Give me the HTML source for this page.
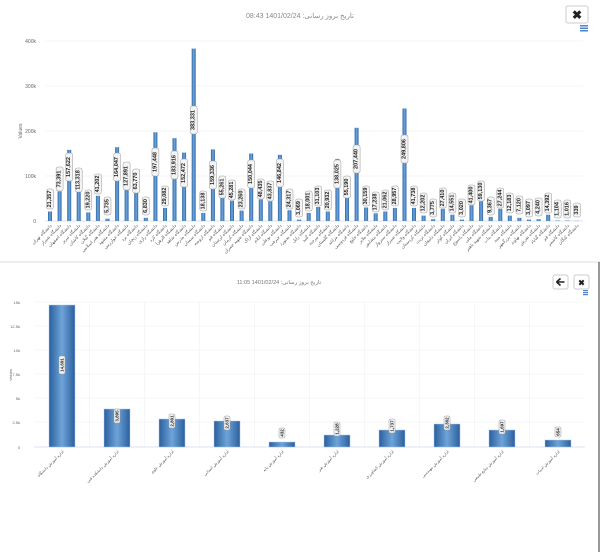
<!DOCTYPE html>
<html><head><meta charset="utf-8"><style>
html,body{margin:0;padding:0;background:#fff;width:600px;height:552px;overflow:hidden}
svg{display:block;font-family:"Liberation Sans","Noto Sans CJK SC",sans-serif}
.yl{font-size:5px;fill:#666;text-anchor:end}
.xl{font-size:4.5px;fill:#555;text-anchor:end}
.lb rect{fill:#f4f4f4;stroke:#999;stroke-width:.5}
.lb text{font-size:5.5px;fill:#222;font-weight:bold;text-anchor:middle;dominant-baseline:central}
</style></head><body>
<svg width="600" height="552" viewBox="0 0 600 552">
<defs>
<linearGradient id="g" x1="0" x2="1" y1="0" y2="0"><stop offset="0" stop-color="#2d66a6"/><stop offset=".5" stop-color="#6fa6dc"/><stop offset="1" stop-color="#2d66a6"/></linearGradient>
<linearGradient id="g2" x1="0" x2="1" y1="0" y2="0"><stop offset="0" stop-color="#2a5f9e"/><stop offset=".5" stop-color="#6ea4d8"/><stop offset="1" stop-color="#2a5f9e"/></linearGradient>
</defs>
<line x1="0" y1="262" x2="600" y2="262" stroke="#ddd" stroke-width="1"/>
<line x1="599" y1="262" x2="599" y2="552" stroke="#333" stroke-width="1"/>
<text x="300" y="18" font-size="7" fill="#888" text-anchor="middle" font-family="Liberation Sans,sans-serif">تاريخ بروز رسانی: 1401/02/24 08:43</text>
<rect x="566" y="6" width="22" height="17" rx="2" fill="#fff" stroke="#ccc"/>
<text x="577" y="19" font-size="12" font-weight="bold" text-anchor="middle" fill="#222">✖</text>
<g fill="#4a86c8"><rect x="580" y="25" width="8" height="1.5"/><rect x="580" y="27.5" width="8" height="1.5"/><rect x="580" y="30" width="8" height="1.5"/></g>
<g stroke="#eee" stroke-width=".6">
<line x1="45" x2="583" y1="41" y2="41"/><line x1="45" x2="583" y1="86" y2="86"/><line x1="45" x2="583" y1="131" y2="131"/><line x1="45" x2="583" y1="176" y2="176"/>
</g>
<line x1="45" x2="583" y1="221" y2="221" stroke="#ccd6eb" stroke-width=".8"/>
<text class="yl" x="36" y="43">400k</text><text class="yl" x="36" y="88">300k</text><text class="yl" x="36" y="133">200k</text><text class="yl" x="36" y="178">100k</text><text class="yl" x="36" y="223">0</text>
<text x="22" y="131" font-size="5" fill="#666" text-anchor="middle" transform="rotate(-90 22 131)">Values</text>
<g fill="url(#g)">
<rect x="48" y="211.5" width="4" height="9.5"/><rect x="57.6" y="191.3" width="4" height="29.7"/><rect x="67.2" y="149.9" width="4" height="71.1"/><rect x="76.7" y="169.7" width="4" height="51.3"/><rect x="86.3" y="212.4" width="4" height="8.6"/><rect x="95.9" y="195.8" width="4" height="25.2"/><rect x="105.5" y="218.7" width="4" height="2.3"/><rect x="115.1" y="147.2" width="4" height="73.8"/><rect x="124.6" y="163.8" width="4" height="57.2"/><rect x="134.2" y="192.2" width="4" height="28.8"/><rect x="143.8" y="217.8" width="4" height="3.2"/><rect x="153.4" y="132.3" width="4" height="88.7"/><rect x="163" y="207.9" width="4" height="13.1"/><rect x="172.5" y="138.2" width="4" height="82.8"/><rect x="182.1" y="152.6" width="4" height="68.4"/><rect x="191.7" y="48.6" width="4" height="172.4"/><rect x="201.3" y="212.9" width="4" height="8.1"/><rect x="210.9" y="149.4" width="4" height="71.6"/><rect x="220.4" y="196.2" width="4" height="24.8"/><rect x="230" y="200.7" width="4" height="20.3"/><rect x="239.6" y="210.6" width="4" height="10.4"/><rect x="249.2" y="153.5" width="4" height="67.5"/><rect x="258.8" y="199.4" width="4" height="21.6"/><rect x="268.3" y="201.2" width="4" height="19.8"/><rect x="277.9" y="154.8" width="4" height="66.2"/><rect x="287.5" y="210.2" width="4" height="10.8"/><rect x="297.1" y="219.6" width="4" height="1.4"/><rect x="306.7" y="212.9" width="4" height="8.1"/><rect x="316.2" y="207" width="4" height="14"/><rect x="325.8" y="211.5" width="4" height="9.5"/><rect x="335.4" y="158.9" width="4" height="62.1"/><rect x="345" y="196.2" width="4" height="24.8"/><rect x="354.6" y="127.8" width="4" height="93.2"/><rect x="364.1" y="207.5" width="4" height="13.5"/><rect x="373.7" y="213.3" width="4" height="7.7"/><rect x="383.3" y="211.5" width="4" height="9.5"/><rect x="392.9" y="207.9" width="4" height="13.1"/><rect x="402.5" y="108.5" width="4" height="112.5"/><rect x="412" y="207.9" width="4" height="13.1"/><rect x="421.6" y="215.6" width="4" height="5.4"/><rect x="431.2" y="219.2" width="4" height="1.8"/><rect x="440.8" y="208.8" width="4" height="12.2"/><rect x="450.4" y="214.7" width="4" height="6.3"/><rect x="459.9" y="219.6" width="4" height="1.4"/><rect x="469.5" y="205.2" width="4" height="15.8"/><rect x="479.1" y="201.2" width="4" height="19.8"/><rect x="488.7" y="216.9" width="4" height="4.1"/><rect x="498.3" y="208.8" width="4" height="12.2"/><rect x="507.8" y="215.6" width="4" height="5.4"/><rect x="517.4" y="217.8" width="4" height="3.2"/><rect x="527" y="219.6" width="4" height="1.4"/><rect x="536.6" y="219.2" width="4" height="1.8"/><rect x="546.2" y="214.7" width="4" height="6.3"/><rect x="555.7" y="220.5" width="4" height=".5"/><rect x="565.3" y="220.5" width="4" height=".5"/><rect x="574.9" y="220.8" width="4" height=".2"/>
</g>
<g class="lb">
<g transform="translate(50 199) rotate(-90)"><rect x="-10" y="-3.5" width="20" height="7" rx="2"/><text>21,357</text></g>
<g transform="translate(59.6 179) rotate(-90)"><rect x="-12" y="-3.5" width="24" height="7" rx="2"/><text>73,391</text></g>
<g transform="translate(69.2 167) rotate(-90)"><rect x="-14" y="-3.5" width="28" height="7" rx="2"/><text>157,622</text></g>
<g transform="translate(78.7 180) rotate(-90)"><rect x="-12" y="-3.5" width="24" height="7" rx="2"/><text>113,318</text></g>
<g transform="translate(88.3 200) rotate(-90)"><rect x="-10" y="-3.5" width="20" height="7" rx="2"/><text>19,220</text></g>
<g transform="translate(97.9 184) rotate(-90)"><rect x="-10" y="-3.5" width="20" height="7" rx="2"/><text>41,202</text></g>
<g transform="translate(107.5 206) rotate(-90)"><rect x="-9" y="-3.5" width="18" height="7" rx="2"/><text>5,735</text></g>
<g transform="translate(117.1 167) rotate(-90)"><rect x="-14" y="-3.5" width="28" height="7" rx="2"/><text>164,047</text></g>
<g transform="translate(126.6 176) rotate(-90)"><rect x="-14" y="-3.5" width="28" height="7" rx="2"/><text>127,891</text></g>
<g transform="translate(136.2 181) rotate(-90)"><rect x="-12" y="-3.5" width="24" height="7" rx="2"/><text>63,770</text></g>
<g transform="translate(145.8 206) rotate(-90)"><rect x="-9" y="-3.5" width="18" height="7" rx="2"/><text>6,830</text></g>
<g transform="translate(155.4 162) rotate(-90)"><rect x="-14" y="-3.5" width="28" height="7" rx="2"/><text>197,448</text></g>
<g transform="translate(165 196) rotate(-90)"><rect x="-10" y="-3.5" width="20" height="7" rx="2"/><text>29,082</text></g>
<g transform="translate(174.5 165) rotate(-90)"><rect x="-14" y="-3.5" width="28" height="7" rx="2"/><text>183,916</text></g>
<g transform="translate(184.1 173) rotate(-90)"><rect x="-14" y="-3.5" width="28" height="7" rx="2"/><text>152,472</text></g>
<g transform="translate(193.7 120) rotate(-90)"><rect x="-14" y="-3.5" width="28" height="7" rx="2"/><text>383,331</text></g>
<g transform="translate(203.3 201) rotate(-90)"><rect x="-10" y="-3.5" width="20" height="7" rx="2"/><text>18,138</text></g>
<g transform="translate(212.9 175) rotate(-90)"><rect x="-14" y="-3.5" width="28" height="7" rx="2"/><text>159,336</text></g>
<g transform="translate(222.4 187) rotate(-90)"><rect x="-11" y="-3.5" width="22" height="7" rx="2"/><text>55,261</text></g>
<g transform="translate(232 190) rotate(-90)"><rect x="-10" y="-3.5" width="20" height="7" rx="2"/><text>45,281</text></g>
<g transform="translate(241.6 199) rotate(-90)"><rect x="-10" y="-3.5" width="20" height="7" rx="2"/><text>23,260</text></g>
<g transform="translate(251.2 174) rotate(-90)"><rect x="-14" y="-3.5" width="28" height="7" rx="2"/><text>150,044</text></g>
<g transform="translate(260.8 189) rotate(-90)"><rect x="-10" y="-3.5" width="20" height="7" rx="2"/><text>48,435</text></g>
<g transform="translate(270.3 191) rotate(-90)"><rect x="-10" y="-3.5" width="20" height="7" rx="2"/><text>43,837</text></g>
<g transform="translate(279.9 173) rotate(-90)"><rect x="-14" y="-3.5" width="28" height="7" rx="2"/><text>146,842</text></g>
<g transform="translate(289.5 199) rotate(-90)"><rect x="-10" y="-3.5" width="20" height="7" rx="2"/><text>24,317</text></g>
<g transform="translate(299.1 208) rotate(-90)"><rect x="-9" y="-3.5" width="18" height="7" rx="2"/><text>3,069</text></g>
<g transform="translate(308.7 201) rotate(-90)"><rect x="-10" y="-3.5" width="20" height="7" rx="2"/><text>18,001</text></g>
<g transform="translate(318.2 196) rotate(-90)"><rect x="-10" y="-3.5" width="20" height="7" rx="2"/><text>31,103</text></g>
<g transform="translate(327.8 200) rotate(-90)"><rect x="-10" y="-3.5" width="20" height="7" rx="2"/><text>20,932</text></g>
<g transform="translate(337.4 174) rotate(-90)"><rect x="-14" y="-3.5" width="28" height="7" rx="2"/><text>138,025</text></g>
<g transform="translate(347 187) rotate(-90)"><rect x="-11" y="-3.5" width="22" height="7" rx="2"/><text>55,190</text></g>
<g transform="translate(356.6 159) rotate(-90)"><rect x="-14" y="-3.5" width="28" height="7" rx="2"/><text>207,440</text></g>
<g transform="translate(366.1 196) rotate(-90)"><rect x="-10" y="-3.5" width="20" height="7" rx="2"/><text>30,159</text></g>
<g transform="translate(375.7 202) rotate(-90)"><rect x="-10" y="-3.5" width="20" height="7" rx="2"/><text>17,238</text></g>
<g transform="translate(385.3 200) rotate(-90)"><rect x="-10" y="-3.5" width="20" height="7" rx="2"/><text>21,062</text></g>
<g transform="translate(394.9 196) rotate(-90)"><rect x="-10" y="-3.5" width="20" height="7" rx="2"/><text>28,957</text></g>
<g transform="translate(404.5 149) rotate(-90)"><rect x="-14" y="-3.5" width="28" height="7" rx="2"/><text>249,806</text></g>
<g transform="translate(414 196) rotate(-90)"><rect x="-10" y="-3.5" width="20" height="7" rx="2"/><text>41,738</text></g>
<g transform="translate(423.6 203) rotate(-90)"><rect x="-10" y="-3.5" width="20" height="7" rx="2"/><text>12,202</text></g>
<g transform="translate(433.2 208) rotate(-90)"><rect x="-9" y="-3.5" width="18" height="7" rx="2"/><text>3,775</text></g>
<g transform="translate(442.8 198) rotate(-90)"><rect x="-10" y="-3.5" width="20" height="7" rx="2"/><text>27,410</text></g>
<g transform="translate(452.4 203) rotate(-90)"><rect x="-10" y="-3.5" width="20" height="7" rx="2"/><text>14,551</text></g>
<g transform="translate(461.9 208) rotate(-90)"><rect x="-9" y="-3.5" width="18" height="7" rx="2"/><text>3,020</text></g>
<g transform="translate(471.5 195) rotate(-90)"><rect x="-10" y="-3.5" width="20" height="7" rx="2"/><text>41,400</text></g>
<g transform="translate(481.1 191) rotate(-90)"><rect x="-10" y="-3.5" width="20" height="7" rx="2"/><text>59,130</text></g>
<g transform="translate(490.7 206) rotate(-90)"><rect x="-9" y="-3.5" width="18" height="7" rx="2"/><text>9,367</text></g>
<g transform="translate(500.3 198) rotate(-90)"><rect x="-10" y="-3.5" width="20" height="7" rx="2"/><text>27,244</text></g>
<g transform="translate(509.8 203) rotate(-90)"><rect x="-10" y="-3.5" width="20" height="7" rx="2"/><text>12,183</text></g>
<g transform="translate(519.4 205) rotate(-90)"><rect x="-9" y="-3.5" width="18" height="7" rx="2"/><text>7,120</text></g>
<g transform="translate(529 208) rotate(-90)"><rect x="-9" y="-3.5" width="18" height="7" rx="2"/><text>3,097</text></g>
<g transform="translate(538.6 207) rotate(-90)"><rect x="-9" y="-3.5" width="18" height="7" rx="2"/><text>4,240</text></g>
<g transform="translate(548.2 203) rotate(-90)"><rect x="-10" y="-3.5" width="20" height="7" rx="2"/><text>14,392</text></g>
<g transform="translate(557.7 209) rotate(-90)"><rect x="-9" y="-3.5" width="18" height="7" rx="2"/><text>1,104</text></g>
<g transform="translate(567.3 209) rotate(-90)"><rect x="-9" y="-3.5" width="18" height="7" rx="2"/><text>1,016</text></g>
<g transform="translate(576.9 210) rotate(-90)"><rect x="-7" y="-3.5" width="14" height="7" rx="2"/><text>339</text></g>
</g>
<g class="xl">
<text transform="translate(52 226) rotate(-45)">دانشگاه تهران</text><text transform="translate(61.6 226) rotate(-45)">دانشگاه شیراز</text><text transform="translate(71.2 226) rotate(-45)">دانشگاه اصفهان</text><text transform="translate(80.7 226) rotate(-45)">دانشگاه تبریز</text><text transform="translate(90.3 226) rotate(-45)">دانشگاه کاشان</text><text transform="translate(99.9 226) rotate(-45)">دانشگاه گیلان</text><text transform="translate(109.5 226) rotate(-45)">دانشگاه هنر اسلامی</text><text transform="translate(119.1 226) rotate(-45)">دانشگاه مشهد</text><text transform="translate(128.6 226) rotate(-45)">دانشگاه خوارزمی</text><text transform="translate(138.2 226) rotate(-45)">دانشگاه یزد</text><text transform="translate(147.8 226) rotate(-45)">دانشگاه زنجان</text><text transform="translate(157.4 226) rotate(-45)">دانشگاه رازی</text><text transform="translate(167 226) rotate(-45)">دانشگاه کرد</text><text transform="translate(176.5 226) rotate(-45)">دانشگاه الزهرا</text><text transform="translate(186.1 226) rotate(-45)">دانشگاه شاهد</text><text transform="translate(195.7 226) rotate(-45)">دانشگاه مدرس</text><text transform="translate(205.3 226) rotate(-45)">دانشگاه سمنان</text><text transform="translate(214.9 226) rotate(-45)">دانشگاه ارومیه</text><text transform="translate(224.4 226) rotate(-45)">دانشگاه قم</text><text transform="translate(234 226) rotate(-45)">دانشگاه لرستان</text><text transform="translate(243.6 226) rotate(-45)">دانشگاه کرمان</text><text transform="translate(253.2 226) rotate(-45)">دانشگاه شهید چمران</text><text transform="translate(262.8 226) rotate(-45)">دانشگاه اراک</text><text transform="translate(272.3 226) rotate(-45)">دانشگاه ایلام</text><text transform="translate(281.9 226) rotate(-45)">دانشگاه بوعلی</text><text transform="translate(291.5 226) rotate(-45)">دانشگاه جیرفت</text><text transform="translate(301.1 226) rotate(-45)">دانشگاه بجنورد</text><text transform="translate(310.7 226) rotate(-45)">دانشگاه زابل</text><text transform="translate(320.2 226) rotate(-45)">دانشگاه گنبد</text><text transform="translate(329.8 226) rotate(-45)">دانشگاه بیرجند</text><text transform="translate(339.4 226) rotate(-45)">دانشگاه گلستان</text><text transform="translate(349 226) rotate(-45)">دانشگاه مراغه</text><text transform="translate(358.6 226) rotate(-45)">دانشگاه فردوسی</text><text transform="translate(368.1 226) rotate(-45)">دانشگاه خلیج</text><text transform="translate(377.7 226) rotate(-45)">دانشگاه ملایر</text><text transform="translate(387.3 226) rotate(-45)">دانشگاه نیشابور</text><text transform="translate(396.9 226) rotate(-45)">دانشگاه سبزوار</text><text transform="translate(406.5 226) rotate(-45)">دانشگاه شیراز</text><text transform="translate(416 226) rotate(-45)">دانشگاه ولایت</text><text transform="translate(425.6 226) rotate(-45)">دانشگاه کردستان</text><text transform="translate(435.2 226) rotate(-45)">دانشگاه تربت</text><text transform="translate(444.8 226) rotate(-45)">دانشگاه دامغان</text><text transform="translate(454.4 226) rotate(-45)">دانشگاه کوثر</text><text transform="translate(463.9 226) rotate(-45)">دانشگاه ایران</text><text transform="translate(473.5 226) rotate(-45)">دانشگاه یاسوج</text><text transform="translate(483.1 226) rotate(-45)">دانشگاه ملی</text><text transform="translate(492.7 226) rotate(-45)">دانشگاه شهید باهنر</text><text transform="translate(502.3 226) rotate(-45)">دانشگاه بناب</text><text transform="translate(511.8 226) rotate(-45)">دانشگاه میبد</text><text transform="translate(521.4 226) rotate(-45)">دانشگاه بزرگمهر</text><text transform="translate(531 226) rotate(-45)">دانشگاه نهاوند</text><text transform="translate(540.6 226) rotate(-45)">دانشگاه تفرش</text><text transform="translate(550.2 226) rotate(-45)">دانشگاه گناباد</text><text transform="translate(559.7 226) rotate(-45)">دانشگاه قم</text><text transform="translate(569.3 226) rotate(-45)">دانشگاه کاشمر</text><text transform="translate(578.9 226) rotate(-45)">دانشگاه کنگان</text>
</g>

<text x="279" y="284" font-size="5.5" fill="#777" text-anchor="middle">تاريخ بروز رسانی: 1401/02/24 11:05</text>
<rect x="553" y="275" width="15" height="14" rx="2" fill="#fff" stroke="#ccc"/>
<path d="M556.5 282 L560.5 278.5 M556.5 282 L560.5 285.5 M556.5 282 L564.5 282" stroke="#222" stroke-width="1.6" fill="none"/>
<rect x="574" y="275" width="15" height="14" rx="2" fill="#fff" stroke="#ccc"/>
<text x="581.5" y="285.5" font-size="8" font-weight="bold" text-anchor="middle" fill="#222">✖</text>
<g fill="#4a86c8"><rect x="583" y="290" width="5" height="1.2"/><rect x="583" y="292" width="5" height="1.2"/><rect x="583" y="294" width="5" height="1.2"/></g>
<g stroke="#eee" stroke-width=".5">
<line x1="34" x2="585" y1="302" y2="302"/><line x1="34" x2="585" y1="326" y2="326"/><line x1="34" x2="585" y1="350" y2="350"/><line x1="34" x2="585" y1="374" y2="374"/><line x1="34" x2="585" y1="398" y2="398"/><line x1="34" x2="585" y1="422" y2="422"/>
<line x1="89.5" x2="89.5" y1="302" y2="447"/><line x1="144.5" x2="144.5" y1="302" y2="447"/><line x1="199.5" x2="199.5" y1="302" y2="447"/><line x1="254.5" x2="254.5" y1="302" y2="447"/><line x1="309.5" x2="309.5" y1="302" y2="447"/><line x1="364.5" x2="364.5" y1="302" y2="447"/><line x1="419.5" x2="419.5" y1="302" y2="447"/><line x1="474.5" x2="474.5" y1="302" y2="447"/><line x1="529.5" x2="529.5" y1="302" y2="447"/>
</g>
<line x1="34" x2="585" y1="447" y2="447" stroke="#ccd6eb" stroke-width=".8"/>
<g class="yl" style="font-size:4px"><text x="20" y="304">15k</text><text x="20" y="328">12.5k</text><text x="20" y="352">10k</text><text x="20" y="376">7.5k</text><text x="20" y="400">5k</text><text x="20" y="424">2.5k</text><text x="20" y="449">0</text></g>
<text x="12" y="375" font-size="4" fill="#666" text-anchor="middle" transform="rotate(-90 12 375)">Values</text>
<g fill="url(#g2)" stroke="#a9c8ea" stroke-width=".5">
<rect x="49" y="305" width="26" height="142"/><rect x="104" y="409" width="26" height="38"/><rect x="159" y="419" width="26" height="28"/><rect x="214" y="421" width="26" height="26"/><rect x="269" y="442" width="26" height="5"/><rect x="324" y="435" width="26" height="12"/><rect x="379" y="430" width="26" height="17"/><rect x="434" y="424" width="26" height="23"/><rect x="489" y="430" width="26" height="17"/><rect x="545" y="440" width="26" height="7"/>
</g>
<g class="lb">
<g transform="translate(62 365) rotate(-90)"><rect x="-9" y="-3" width="18" height="6" rx="1.5"/><text style="font-size:4.5px">14,691</text></g>
<g transform="translate(117 416) rotate(-90)"><rect x="-7" y="-3" width="14" height="6" rx="1.5"/><text style="font-size:4.5px">3,895</text></g>
<g transform="translate(172 421) rotate(-90)"><rect x="-7" y="-3" width="14" height="6" rx="1.5"/><text style="font-size:4.5px">2,801</text></g>
<g transform="translate(227 423) rotate(-90)"><rect x="-7" y="-3" width="14" height="6" rx="1.5"/><text style="font-size:4.5px">2,637</text></g>
<g transform="translate(282 433) rotate(-90)"><rect x="-5" y="-3" width="10" height="6" rx="1.5"/><text style="font-size:4.5px">432</text></g>
<g transform="translate(337 429) rotate(-90)"><rect x="-7" y="-3" width="14" height="6" rx="1.5"/><text style="font-size:4.5px">1,228</text></g>
<g transform="translate(392 426) rotate(-90)"><rect x="-7" y="-3" width="14" height="6" rx="1.5"/><text style="font-size:4.5px">1,737</text></g>
<g transform="translate(447 423) rotate(-90)"><rect x="-7" y="-3" width="14" height="6" rx="1.5"/><text style="font-size:4.5px">2,362</text></g>
<g transform="translate(502 427) rotate(-90)"><rect x="-7" y="-3" width="14" height="6" rx="1.5"/><text style="font-size:4.5px">1,697</text></g>
<g transform="translate(558 432) rotate(-90)"><rect x="-5" y="-3" width="10" height="6" rx="1.5"/><text style="font-size:4.5px">654</text></g>
</g>
<g class="xl" style="font-size:4px">
<text transform="translate(64 452) rotate(-45)">اداره آموزش دانشگاه</text><text transform="translate(119 452) rotate(-45)">اداره آموزش دانشکده فنی</text><text transform="translate(174 452) rotate(-45)">اداره آموزش علوم</text><text transform="translate(229 452) rotate(-45)">اداره آموزش انسانی</text><text transform="translate(284 452) rotate(-45)">اداره آموزش پایه</text><text transform="translate(339 452) rotate(-45)">اداره آموزش هنر</text><text transform="translate(394 452) rotate(-45)">اداره آموزش کشاورزی</text><text transform="translate(449 452) rotate(-45)">اداره آموزش مهندسی</text><text transform="translate(504 452) rotate(-45)">اداره آموزش منابع طبیعی</text><text transform="translate(560 452) rotate(-45)">اداره آموزش ادبیات</text>
</g>
</svg>
</body></html>
